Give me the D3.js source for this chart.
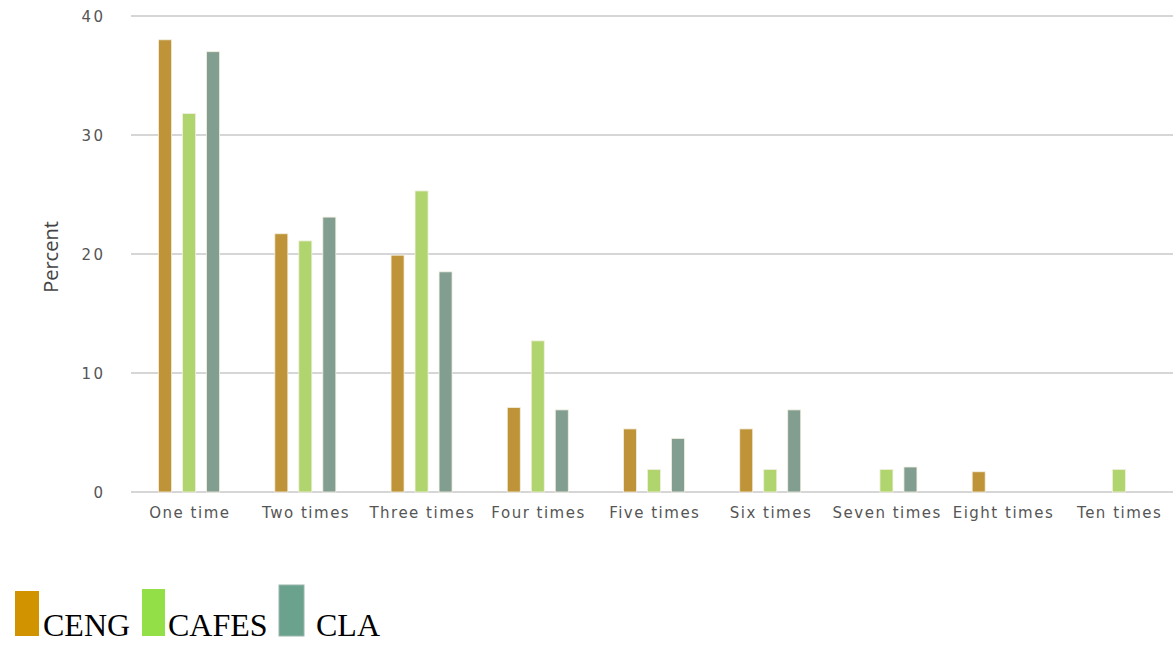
<!DOCTYPE html>
<html><head><meta charset="utf-8">
<script src="https://cdn.jsdelivr.net/npm/d3@7"></script>
<style>body{margin:0;background:#fff;}svg{display:block;}</style>
</head><body>
<script>
const categories = ["One time","Two times","Three times","Four times","Five times","Six times","Seven times","Eight times","Ten times"];
const seriesNames = ["CENG","CAFES","CLA"];
const ceng  = [38.0, 21.7, 19.9, 7.1, 5.3, 5.3, 0, 1.7, 0];
const cafes = [31.8, 21.1, 25.3, 12.7, 1.9, 1.9, 1.9, 0, 1.9];
const cla   = [37.0, 23.1, 18.5, 6.9, 4.5, 6.9, 2.1, 0, 0];
const yTicks = [0, 10, 20, 30, 40];
const barColors = ["#bf9438", "#b0d56e", "#829e91"];
const legendColors = ["#d19300", "#92df48", "#6aa28e"];

const W = 1173, H = 645;
const svg = d3.select("body").append("svg").attr("width", W).attr("height", H);
const x = d3.scaleBand().domain(categories).range([131, 1177]);
const y = d3.scaleLinear().domain([0, 40]).range([492, 16]);
const series = [ceng, cafes, cla];

// gridlines
svg.append("g").selectAll("line").data(yTicks).join("line")
  .attr("x1", 131).attr("x2", 1173)
  .attr("y1", d => y(d)).attr("y2", d => y(d))
  .attr("stroke", "#c8c8c8").attr("stroke-width", 1.5);

// y tick labels
svg.append("g").selectAll("text").data(yTicks).join("text")
  .attr("x", 105.5).attr("y", d => y(d) + 6)
  .attr("text-anchor", "end")
  .attr("font-family", "'DejaVu Sans', sans-serif").attr("font-size", 15)
  .attr("letter-spacing", 2.5)
  .attr("fill", "#555").text(d => d);

// y title
svg.append("text")
  .attr("transform", "translate(58,257) rotate(-90)")
  .attr("text-anchor", "middle")
  .attr("font-family", "'Open Sans', sans-serif").attr("font-size", 20)
  .attr("fill", "#444").text("Percent");

// bars
const offsets = [-24, 0, 24];
const bw = 13;
series.forEach((vals, si) => {
  svg.append("g").selectAll("rect").data(vals.map((v, i) => ({v, c: categories[i]}))).join("rect")
    .filter(d => d.v > 0)
    .attr("x", d => x(d.c) + x.bandwidth() / 2 + offsets[si] - bw / 2)
    .attr("y", d => y(d.v))
    .attr("width", bw)
    .attr("height", d => y(0) - y(d.v))
    .attr("fill", barColors[si])
    .attr("stroke", "#f3efe0").attr("stroke-width", 0.8);
});

// x labels
svg.append("g").selectAll("text").data(categories).join("text")
  .attr("x", d => x(d) + x.bandwidth() / 2 + 0.8).attr("y", 518)
  .attr("text-anchor", "middle")
  .attr("font-family", "'DejaVu Sans', sans-serif").attr("font-size", 15)
  .attr("letter-spacing", 1.5)
  .attr("fill", "#555").text(d => d);

// legend
const legendItems = [
  {name: seriesNames[0], sx: 15, sy: 591, sw: 24, sh: 45, tx: 43},
  {name: seriesNames[1], sx: 142, sy: 589, sw: 23, sh: 47, tx: 168},
  {name: seriesNames[2], sx: 279, sy: 585, sw: 25, sh: 51, tx: 316}
];
const lg = svg.append("g");
legendItems.forEach((it, i) => {
  lg.append("rect").attr("x", it.sx).attr("y", it.sy).attr("width", it.sw).attr("height", it.sh)
    .attr("fill", legendColors[i])
    .attr("stroke", i === 2 ? "#9ab5ab" : "none").attr("stroke-width", 1);
  lg.append("text").attr("x", it.tx).attr("y", 636)
    .attr("font-family", "'Liberation Serif', 'Times New Roman', serif").attr("font-size", 32)
    .attr("fill", "#000").text(it.name);
});
</script>
</body></html>
